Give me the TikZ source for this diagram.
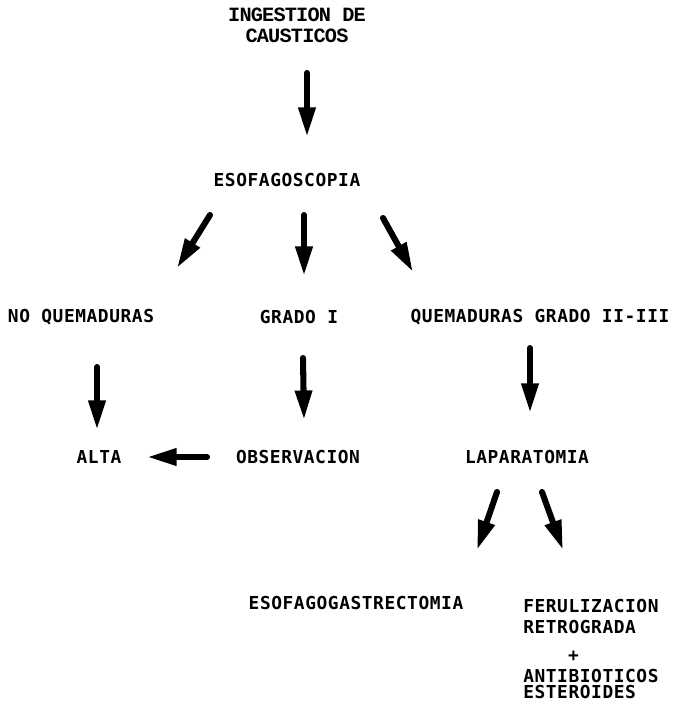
\documentclass[tikz,border=0pt]{standalone}
\usepackage{fontspec}
\newfontfamily\maquina[LetterSpace=3.2]{DejaVu Sans Mono}
\newfontfamily\titulo[LetterSpace=-4]{Liberation Mono}
\usetikzlibrary{calc,arrows.meta}

\begin{document}
\begin{tikzpicture}[x=0.025cm,y=-0.025cm,
  flecha/.style={line width=4.3pt,line cap=round,-{Triangle[length=21pt,width=11.5pt]}},
  caja/.style={inner sep=0pt,font=\fontsize{12.7}{14.9}\selectfont\maquina\bfseries}]
  \useasboundingbox (0,0) rectangle (676,704);
  % nodos del algoritmo
  \node[inner sep=0pt,align=center,font=\fontsize{14.4}{15}\selectfont\titulo\bfseries] (ing) at (297,25) {INGESTION DE\\CAUSTICOS};
  \node[caja] (esof) at (287,180) {ESOFAGOSCOPIA};
  \node[caja] (noq) at (81,317) {NO QUEMADURAS};
  \node[caja] (grado) at (299,317) {GRADO I};
  \node[caja] (quem) at (540,317) {QUEMADURAS GRADO II-III};
  \node[caja] (alta) at (99,457) {ALTA};
  \node[caja] (obs) at (298,457) {OBSERVACION};
  \node[caja] (lap) at (527,457) {LAPARATOMIA};
  \node[caja] (esga) at (356,603) {ESOFAGOGASTRECTOMIA};
  \node[caja,align=left,anchor=north west] (ferul) at (523,599)
    {FERULIZACION\\RETROGRADA\\[5pt]\phantom{FERU}+\\ANTIBIOTICOS\\[-3.6pt]ESTEROIDES};
  % flechas
  \draw[flecha] ($(ing)+(10,48)$) -- ($(esof)+(20,-43)$);
  \draw[flecha] ($(esof)+(-77,35)$) -- ($(noq)+(96,-49)$);
  \draw[flecha] ($(esof)+(17,35)$) -- ($(grado)+(5,-41)$);
  \draw[flecha] ($(esof)+(96,38)$) -- ($(quem)+(-127,-45)$);
  \draw[flecha] ($(noq)+(16,50)$) -- ($(alta)+(-2,-27)$);
  \draw[flecha] ($(grado)+(4,41)$) -- ($(obs)+(6,-37)$);
  \draw[flecha] ($(quem)+(-10,31)$) -- ($(lap)+(3,-44)$);
  \draw[flecha] ($(obs)+(-91,0)$) -- ($(alta)+(48,0)$);
  \draw[flecha] ($(lap)+(-30,35)$) -- ($(esga)+(121,-53)$);
  \draw[flecha] ($(lap)+(15,35)$) -- ($(ferul.north west)+(40,-49)$);
\end{tikzpicture}
\end{document}
